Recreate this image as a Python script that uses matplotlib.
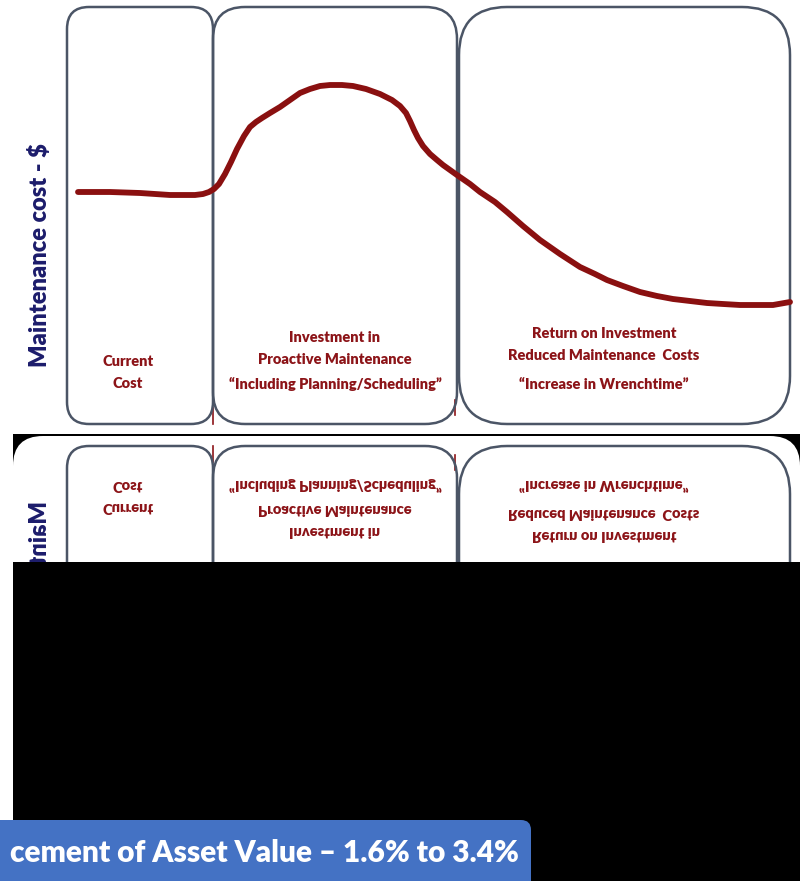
import numpy as np
import matplotlib
matplotlib.use("Agg")
import matplotlib.pyplot as plt
from matplotlib.patches import FancyBboxPatch, Rectangle

plt.rcParams['font.family'] = ['Lato', 'DejaVu Sans']

# maintenance cost curve (time position, cost level)
time = [78, 110, 140, 170, 185, 195, 203, 209, 214, 219, 225, 231, 237, 244, 250,
        256, 262, 270, 280, 290, 300, 310, 320, 330, 342, 353, 366, 380, 392, 400,
        406, 410, 414, 418, 423, 430, 437, 443, 450, 457, 470, 480, 495, 507, 523,
        540, 560, 580, 595, 607, 623, 640, 657, 673, 690, 707, 723, 740, 757, 773,
        790]
cost = [242, 242, 241, 239, 239, 239, 240, 242, 245, 250, 260, 272, 285, 298, 307,
        312, 316, 321, 327, 334, 341, 345, 348, 349, 349, 348, 345, 340, 334, 328,
        321, 313, 304, 296, 288, 280, 274, 269, 264, 259, 250, 242, 232, 222, 208,
        194, 180, 167, 160, 154, 148, 142, 138, 135, 133, 131, 130, 129, 129, 129,
        132]

# phases
phase_start = [67, 213, 459]
phase_end = [213, 457, 790]
phase_lines = [
    ["Current", "Cost"],
    ["Investment in", "Proactive Maintenance", "\u201cIncluding Planning/Scheduling\u201d"],
    ["Return on Investment", "Reduced Maintenance  Costs", "\u201cIncrease in Wrenchtime\u201d"],
]
ylabel = "Maintenance cost - $"
banner = "cement of Asset Value \u2013 1.6% to 3.4%"

BOX = "#4b5566"
RED = "#8c1418"
W, H = 800, 881

fig = plt.figure(figsize=(8, 8.81), dpi=100, facecolor="white")

# background: black backdrop and blue banner
bg = fig.add_axes([0, 0, 1, 1])
bg.set_xlim(0, W)
bg.set_ylim(H, 0)
bg.axis("off")
bg.add_patch(Rectangle((13, 434), W - 13, H - 434, color="black", lw=0))
bg.add_patch(FancyBboxPatch((-40, 820), 571, 120,
                            boxstyle="round,pad=0,rounding_size=10",
                            fc="#4472c4", ec="none"))
bg.text(519, 853, banner, color="white", fontsize=21.5, fontweight="heavy",
        ha="right", va="center")

# main panel
ax = fig.add_axes([0, 1 - 434 / H, 1, 434 / H])
ax.set_xlim(0, W)
ax.set_ylim(0, 434)
ax.axis("off")

radius = [22, 32, 48]
for x0, x1, r in zip(phase_start, phase_end, radius):
    ax.add_patch(FancyBboxPatch((x0, 10), x1 - x0, 417,
                                boxstyle=f"round,pad=0,rounding_size={r}",
                                fc="none", ec=BOX, lw=1.8, zorder=2))

ax.plot(time, cost, color="#8a1010", lw=4.2, solid_capstyle="round",
        solid_joinstyle="round", zorder=3)

# small red ticks at phase boundaries
ax.plot([213, 213], [10, 26], color=RED, lw=1.2, zorder=1)
ax.plot([455, 455], [19, 34], color=RED, lw=1.2, zorder=1)

label_x = [128, 335, 604]
label_y = [[72, 51], [96, 74, 50], [100, 78, 50]]
for lx, ys, lines in zip(label_x, label_y, phase_lines):
    for ly, s in zip(ys, lines):
        ax.text(lx, ly, s, color=RED, fontsize=10.5, fontweight="heavy",
                ha="center", va="center")

ax.text(40, 179, ylabel, rotation=90, color="#1c1c6b", fontsize=17,
        fontweight="heavy", ha="center", va="center")

# reflection of the lower part of the panel
fig.canvas.draw()
buf = np.asarray(fig.canvas.buffer_rgba())
refl = buf[308:434, 13:800][::-1].copy()

axr = fig.add_axes([13 / W, 1 - 562 / H, 787 / W, 126 / H])
axr.set_xlim(13, 800)
axr.set_ylim(562, 436)
axr.axis("off")
im = axr.imshow(refl, extent=(13, 800, 562, 436), aspect="auto",
                interpolation="nearest")
clip = FancyBboxPatch((13, 436), 787, 200, boxstyle="round,pad=0,rounding_size=30",
                      fc="none", ec="none", transform=axr.transData)
axr.add_patch(clip)
im.set_clip_path(clip)

fig.savefig("out.png", dpi=100, facecolor="white")
